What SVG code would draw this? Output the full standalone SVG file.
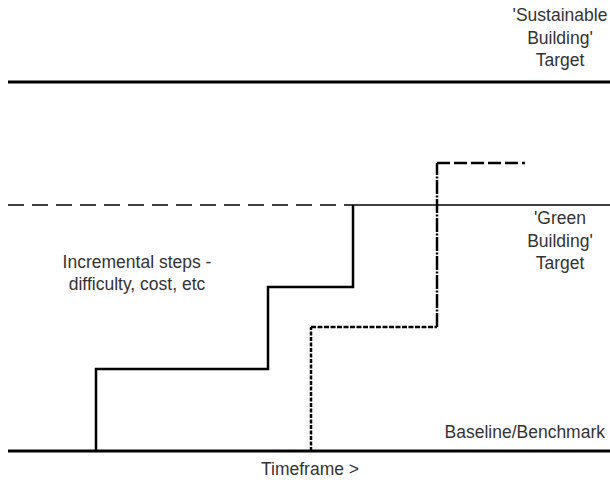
<svg xmlns="http://www.w3.org/2000/svg" width="610" height="480" viewBox="0 0 610 480">
<style>
text{font-family:"Liberation Sans",Arial,sans-serif;font-size:17.5px;fill:#333}
.c{text-anchor:middle}
.thick{stroke:#000;stroke-width:3;fill:none}
.med{stroke:#000;stroke-width:2.5;fill:none}
.thin{stroke:#000;stroke-width:1.6;fill:none}
</style>
<rect width="610" height="480" fill="#fff"/>
<g id="connectors">
<line class="thick" x1="8" y1="82" x2="610" y2="82"/>
<line class="thin" x1="8" y1="205" x2="352" y2="205" stroke-dasharray="16,8"/>
<line class="thin" x1="352" y1="205" x2="610" y2="205"/>
<line class="thick" x1="8" y1="451" x2="610" y2="451"/>
<polyline class="med" points="96,451 96,369 268,369 268,287 353,287 353,205"/>
<polyline class="med" points="311,451 311,327" stroke-dasharray="4,1.5"/>
<polyline class="med" points="311,327 437,327" stroke-dasharray="5,1.5"/>
<polyline class="med" points="437,327 437,163" stroke-dasharray="14,1.5,2,1.5"/>
<polyline class="med" points="437,163 525,163" stroke-dasharray="13,4"/>
</g>
<g id="sustainable">
<text class="c" x="560" y="21">'Sustainable</text>
<text class="c" x="560" y="44">Building'</text>
<text class="c" x="560" y="66">Target</text>
</g>
<g id="green">
<text class="c" x="560" y="224">'Green</text>
<text class="c" x="560" y="247">Building'</text>
<text class="c" x="560" y="269">Target</text>
</g>
<g id="incremental">
<text class="c" x="137" y="268">Incremental steps -</text>
<text class="c" x="137" y="290">difficulty, cost, etc</text>
</g>
<g id="baseline">
<text x="605" y="438" text-anchor="end">Baseline/Benchmark</text>
</g>
<g id="timeframe">
<text class="c" x="310" y="475">Timeframe &gt;</text>
</g>
</svg>
